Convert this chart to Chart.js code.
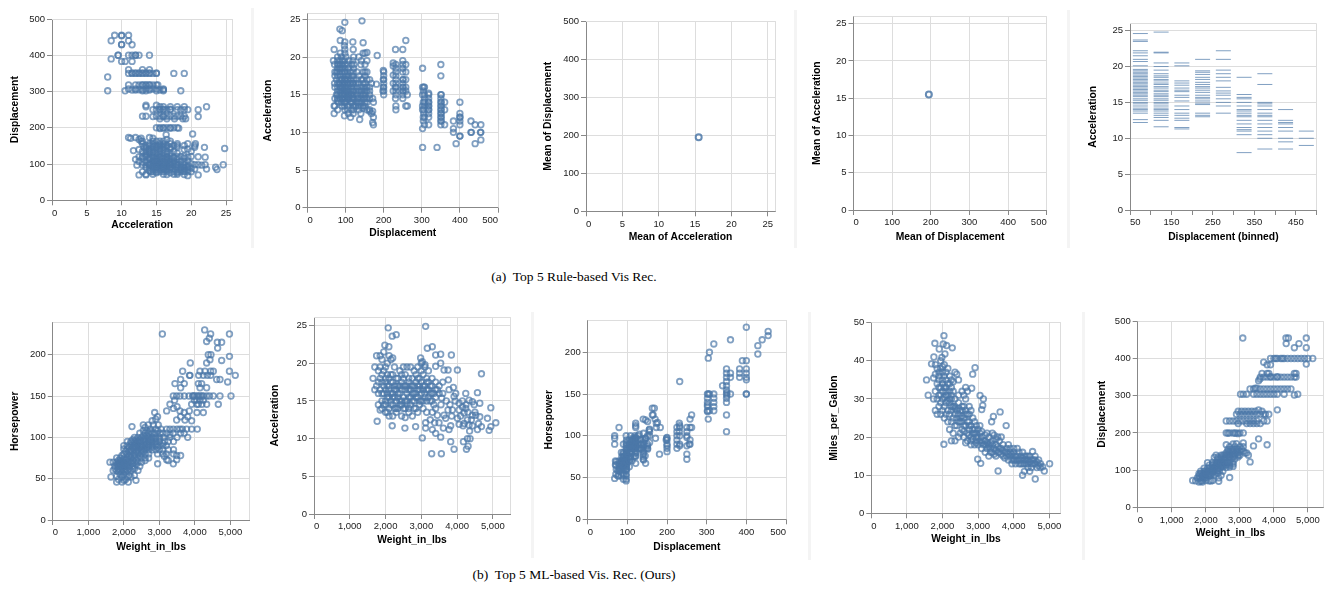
<!DOCTYPE html>
<html>
<head>
<meta charset="utf-8">
<title>Vis Rec</title>
<script src="https://cdn.jsdelivr.net/npm/chart.js@4.4.0/dist/chart.umd.min.js"></script>
<style>
  body { margin: 0; background: #fff; width: 1330px; height: 594px; position: relative; overflow: hidden; }
  canvas { position: absolute; }
  .sep { position: absolute; width: 3px; background: #f4f4f4; }
  .cap { position: absolute; left: 374px; width: 400px; text-align: center; white-space: pre;
         font-family: "Liberation Serif", "DejaVu Serif", serif; font-size: 13.5px; line-height: 16px; color: #000; }
</style>
</head>
<body>

<div class="sep" style="left:251px; top:8px; height:240px;"></div>
<div class="sep" style="left:794px; top:10px; height:238px;"></div>
<div class="sep" style="left:1067px; top:10px; height:238px;"></div>
<div class="sep" style="left:531px; top:312px; height:246px;"></div>
<div class="sep" style="left:808px; top:312px; height:248px;"></div>
<div class="sep" style="left:1082px; top:312px; height:248px;"></div>

<div class="cap" style="top:269px;">(a)  Top 5 Rule-based Vis Rec.</div>
<div class="cap" style="top:567px;">(b)  Top 5 ML-based Vis. Rec. (Ours)</div>

<script type="text/javascript">

// ---- tick values / labels
var ticksAcc = [0, 5, 10, 15, 20, 25];
var ticksDisp = [0, 100, 200, 300, 400, 500];
var ticksHp = [0, 50, 100, 150, 200];
var ticksMpg = [0, 10, 20, 30, 40, 50];
var ticksWt = [0, 1000, 2000, 3000, 4000, 5000];
var labelsWt = ['0', '1,000', '2,000', '3,000', '4,000', '5,000'];
var ticksBin = [50, 100, 150, 200, 250, 300, 350, 400, 450, 500];
var labelsBin = ['50', '', '150', '', '250', '', '350', '', '450', ''];

// ---- (acceleration, displacement)
var accDisp = [
  [9,455],[10,455],[11,455],[10,454],[8.5,440],[11,440],[10,429],[11.5,429],[10,430],
  [9.5,400],[9.5,400],[11,400],[11.5,400],[12,400],[12.5,400],[14,400],[12,400],
  [8.5,390],[10,383],[10.5,383],[11.5,383],[11,360],[13,360],[14,360],
  [11,350],[11.5,350],[12,350],[12.5,350],[13,350],[13.5,350],[14,350],[14.5,350],[15,350],[17.5,350],[19,350],
  [11.5,351],[12,351],[13,351],[14,351],[12.5,351],[13.5,351],[15,351],[8,340],
  [11,318],[12,318],[12.5,318],[13,318],[13.5,318],[14,318],[14.5,318],[15,318],[13,318],[13.5,318],[14,318],[15.2,318],
  [8,302],[10.5,302],[11,307],[11.5,304],[12,307],[12.5,305],[13,302],[13.5,302],[14,304],[14.5,307],[15,302],
  [15.5,304],[16,302],[16,305],[13,305],[12,304],[18.5,302],[14,307],[15,307],[13.5,307],[16,307],
  [15,262],[13.5,258],[16,258],[17,258],[18,258],[19,258],[22.2,258],[15.5,258],[13.5,262],
  [14.5,250],[15,250],[15.5,250],[16,250],[16.5,250],[17,250],[18,250],[18.5,250],[19,250],[19.5,250],[21,250],[16,251],[17,251],[15.5,251],
  [13,232],[13.5,232],[15,232],[15.5,232],[16,232],[16.5,232],[17,232],[17.5,232],[18,232],[18.5,232],[19,232],[21,231],
  [15.5,225],[16.5,225],[18.8,225],[19.2,225],[17.6,225],[16,231],[14.5,231],
  [15,200],[15.5,200],[16,200],[16.5,200],[17,200],[17.5,200],[18,200],[18.2,199],[15.5,198],[16,199],[17,199],
  [20.2,183],[16.4,181],[11,173],[11.3,171],[12,173],[12.5,168],[12.8,171],[14,173],[14.5,171],[16.5,168],
  [13,163],[14.5,163],[16,163],[15.5,163],[12.8,163],[17,163],[15,163],
  [13,156],[14,156],[14.5,156],[15.5,156],[17,156],[19.5,156],[20.6,156],[16,156],[18,156],
  [14,151],[15,151],[16,151],[16.5,151],[18,151],[19,151],[20.5,151],[15.5,151],[17.5,151],[14.5,151],[13.5,151],
  [13.2,146],[14.5,146],[15.5,145],[18,146],[20.5,146],[21.9,146],[16,146],[13.5,146],[15,146],[16.5,146],[17,146],
  [12.5,140],[13.5,140],[14,140],[15,140],[16,140],[17,141],[19,140],[19.5,141],[24.8,143],[15.5,140],[14.5,140],
  [11.7,137],[13,135],[14.5,134],[15.5,135],[16.5,134],[17.5,135],[20,135],[14,135],[13.5,134],
  [14,130],[15,130],[16,130],[17,130],[13.5,127],[15.5,127],[18,130],[14.5,131],[16.5,127],
  [13,121],[12.5,120],[13.5,120],[14.5,119],[15,120],[16,121],[17.5,119],[18,120],[20,121],[21,120],[22,119],[14.5,122],[15.5,121],[16.5,120],[19,122],
  [14,119],[15.5,119],[16.5,119],[17,121],[18.5,121],[19.5,119],[13.5,122],
  [13,116],[14,113],[15,114],[15.5,116],[16,116],[16.5,112],[17,113],[19,116],[14.5,116],[18,113],[14,116],[16.5,116],[17.5,116],[15,116],[12,113],
  [13,105],[14,101],[14.5,105],[15,108],[15.5,104],[16,105],[16.5,107],[17,105],[18,104],[19,105],[20,101],[14.8,107],[16,101],[19.5,108],[15.5,108],[17.5,108],
  [13.5,105],[14.5,108],[15,105],[16.5,104],[17.5,104],[18.5,107],[15.5,101],[17,101],[12.5,107],
  [12.2,97],[13.5,97],[14.5,97],[15,97],[15.5,98],[16,97],[16.5,98],[17,97],[18,97],[19,98],[19.5,97],[20.5,98],[21,98],[21.5,97],[22,98],[24.6,98],[15.5,97],[16.5,97],[14,98],[18.5,98],[17.5,98],
  [14.5,98],[15,98],[16,98],[17,98],[18,98],[13,98],[14,97],
  [14.5,91],[15,90],[16,90],[17,89],[18,91],[19,91],[20,89],[15.5,90],[23.5,91],[14,89],[16.5,91],[18.5,90],[16,91],[17,91],[15,91],[19.5,91],[13.5,91],
  [15,85],[16,85],[17,85],[18.5,85],[19.5,85],[20.5,86],[14,81],[16.5,83],[22.2,86],[23.7,85],[19,81],[15.5,85],[16.5,86],[17.5,86],[18,85],[14.5,85],[16,86],[19,86],
  [14.5,79],[16,79],[17,76],[18,79],[19,79],[19.5,79],[14.2,79],[15.5,79],[15,79],[17.5,79],[16.5,79],[18.5,79],[20,79],[13,79],
  [14.5,72],[16,72],[17.5,72],[15,76],[18,76],
  [21,70],[19.5,68],[18,72],[16.5,71],[13.5,70],[13.5,72],[12.5,70],[19,71]
];

var meanAcc = 15.5;
var meanDisp = 195;

// ---- binned displacement (bin start) -> acceleration values
var binStarts = [50, 100, 150, 200, 250, 300, 350, 400, 450];
var binAccel = [
  [24.6,23.7,23.5,22.2,21.9,21.5,21.0,20.7,20.1,19.6,19.4,19.2,19.0,18.8,18.6,18.4,18.2,18.0,17.8,17.6,17.4,17.2,17.0,16.8,16.6,16.4,16.2,16.0,15.8,15.5,15.3,15.0,14.8,14.5,14.2,14.0,13.8,13.5,12.6,12.2],
  [24.8,22.0,21.9,20.5,20.0,19.5,19.0,18.7,18.5,18.2,18.0,17.7,17.5,17.2,17.0,16.7,16.5,16.2,16.0,15.8,15.5,15.3,15.0,14.8,14.5,14.2,14.0,13.8,13.5,13.2,12.9,12.5,11.6],
  [20.5,20.1,18.0,17.7,17.4,17.0,16.7,16.5,16.0,15.7,15.2,14.5,14.0,13.5,13.2,12.8,12.5,11.5,11.3],
  [21.0,19.4,19.2,18.9,18.5,18.2,17.8,17.5,17.2,17.0,16.7,16.4,16.0,15.7,15.5,15.2,14.9,14.7,13.5,13.2,13.0],
  [22.2,21.0,19.5,19.0,18.5,18.0,17.1,16.6,16.3,16.0,15.5,15.0,14.5,13.5],
  [18.5,16.1,15.7,15.5,15.0,14.5,14.0,13.8,13.5,13.2,13.0,12.5,12.0,11.5,11.2,11.0,10.5,8.0],
  [19.0,17.5,15.0,14.8,14.5,14.0,13.5,13.2,13.0,12.5,12.0,11.5,11.0,10.5,10.0,8.5],
  [14.0,12.5,12.2,12.0,11.5,11.0,10.0,9.5,8.5],
  [11.0,10.0,9.0]
];

// ---- (weight, horsepower)
var wtHp = [
  [4278,230],[4446,225],[4976,225],[3086,225],[4333,216],[4408,220],[4634,215],[4756,215],[4643,208],[4455,200],[4380,200],
  [4427,194],[4333,190],[4756,193],[4976,198],[4976,180],[5140,175],
  [4146,180],[4286,180],[4446,180],[4521,180],[4108,175],[4240,175],[4352,175],[4446,175],[4709,170],[4615,170],[4925,167],
  [3873,190],[3657,180],[3864,175],[3850,175],[3441,165],[3601,170],[3704,165],[3601,160],[4146,160],[4333,160],[4193,165],[4099,165],
  [3394,150],[3488,150],[3582,150],[3704,150],[3836,150],[3958,150],[4052,150],[4146,150],[4240,150],[4333,150],[4413,150],[4521,150],
  [4709,150],[5019,150],[3940,150],[4100,150],[3990,150],[4200,150],
  [4052,145],[4146,145],[4240,145],[3990,145],[4100,140],[3911,140],[4200,140],[4333,140],[4662,140],[4060,140],
  [3400,135],[3582,132],[3845,132],[3207,132],[4240,130],[4060,130],[3700,130],[3500,137],
  [3488,121],[3723,121],[3911,120],[3800,125],[3600,125],[3300,140],[3430,145],
  [3207,110],[3394,110],[3582,110],[3770,110],[3911,110],[4070,110],[3300,110],[3500,110],[3650,110],
  [3019,105],[3207,105],[3394,105],[3600,105],[3100,105],[3300,103],[3500,100],[3113,100],[3300,100],[3400,95],[3800,100],[3700,105],
  [2549,115],[2690,115],[2831,115],[2972,115],[2600,112],[2750,110],[2900,110],[3050,110],[2800,120],[2900,122],[2870,130],[2950,125],
  [2230,113],
  [2000,90],[2100,90],[2200,90],[2300,90],[2400,90],[2500,90],[2600,90],[2700,90],[2800,90],[2900,90],[3000,90],[3100,90],[3200,90],
  [2150,88],[2250,88],[2350,88],[2450,88],[2650,88],[2800,88],[2950,88],
  [2100,95],[2200,95],[2300,95],[2400,95],[2500,95],[2600,95],[2700,95],[2800,95],[2900,95],[3000,95],[2250,97],[2350,97],[2450,97],[2550,97],[2750,97],[3150,95],[3250,95],
  [2300,100],[2400,100],[2500,100],[2600,100],[2700,100],[2800,100],[2900,100],[3000,100],[2450,105],[2600,105],[2700,105],[2800,105],[2900,105],[2550,108],[2650,108],
  [2200,85],[2300,85],[2400,85],[2500,85],[2600,85],[2700,85],[2800,85],[2900,85],[3000,85],[3100,85],[3250,85],[3400,85],
  [2950,80],[3100,80],[3200,80],[3400,80],[3600,78],[3490,78],[3141,77],[3207,73],[3394,68],[3490,73],[2953,68],[3250,72],
  [2000,80],[2100,80],[2200,80],[2300,80],[2400,80],[2500,80],[2600,80],[2700,80],[2050,83],[2150,83],[2350,83],[2550,83],
  [1800,75],[1900,75],[2000,75],[2100,75],[2200,75],[2300,75],[2400,75],[2500,75],[2600,75],[1950,78],[2150,78],[2450,78],[2700,75],
  [1700,70],[1800,70],[1900,70],[2000,70],[2100,70],[2200,70],[2300,70],[2400,70],[2500,70],[1850,72],[2050,72],[2250,72],[1610,70],[2600,72],
  [1750,65],[1850,65],[1950,65],[2050,65],[2150,65],[2250,65],[2350,67],[1900,67],[2100,67],[2450,65],
  [1700,60],[1800,60],[1900,60],[2000,60],[2100,60],[2200,60],[2300,62],[1850,62],[2050,62],[2400,60],
  [1639,52],[1800,53],[1950,52],[2100,52],[2200,52],[1900,55],[2000,55],[2150,54],[2300,54],[1798,46],[1950,46],[2127,46],[2005,48],[2343,48],[1850,49],[2050,49],
  [1850,68],[1950,70],[2050,68],[2150,70],[2250,68],[2350,72],[1900,72],[2000,73],[2100,73],[2200,77],[2300,78],[2400,82],[2500,83],
  [2600,87],[2700,88],[2800,93],[2900,98],[3000,98],[2200,93],[2300,93],[2400,93],[2500,92],[2600,92],[2700,92],[2200,83],[2100,86],
  [2000,86],[2300,88],[2400,88],[2500,88],[2600,98],[2700,98],[2800,98],[2900,92],[3100,93],[2850,105],[2950,108],[2750,107],[2650,102],
  [2550,102],[2450,95],[2350,92],[1750,62],[1850,58],[1950,58],[2050,58],[2150,62],[2250,62],[1800,67],[1950,62],[2000,67]
];

// ---- (weight, acceleration)
var wtAcc = [
  [2075,24.7],[3121,24.9],[2187,23.6],[2299,23.8],[1981,22.4],[2093,22.2],[3308,22.2],[3168,22],[3402,21.1],[3542,21.2],[3841,21.1],
  [3542,20],[3402,19.6],[3028,20.2],[2981,20.7],[3103,19.8],[3636,19.1],[3748,19.1],[4009,19.1],[4682,18.6],[3757,17.8],[3897,16.8],
  [3776,16.5],[3916,15.6],[3570,15.4],
  [3963,16],[4243,16],[4570,16.1],[4056,14.7],[4150,14.2],[4243,14],[4336,15.1],[4430,14.9],[4477,14.5],[4636,14.7],[4056,13.8],
  [4196,13.4],[4430,13.1],[4523,13.1],[4636,12.9],[4009,12.7],[4290,12.5],[4056,11.9],[4168,11.7],[4336,11.8],[4430,11.7],[4570,11.2],
  [4682,11.6],[4850,12.7],[4897,11.1],[4944,11.6],[4944,14.1],[5084,12.1],[4290,10],[4364,10],[4308,9],[4262,8.6],[4178,9.6],
  [3308,13.5],[3449,13.1],[3636,13.1],[3748,13.8],[3869,13.8],[3682,12.7],[3495,12.1],[3374,12.1],[3617,11.4],[3776,11.2],[3822,11.7],
  [3308,11.2],[3402,10.7],[3542,10.2],[3028,10.1],[3290,8],[3561,8],[3916,8.6],[3822,9.6],[3121,12.1],[3121,11.4],[2841,11.6],
  [2542,11.4],[2187,11.7],[1766,12.3],
  [1650,18],[1700,19.5],[1750,21],[1850,21],[1800,19],[1850,19.5],[1900,20.5],[1950,21.5],[1950,19],[2000,19.5],[2050,20],[2100,21],
  [2150,20.5],[2200,20.7],[2000,18],[1850,18],[1900,17.5],[1750,17],[1700,16.5],[1800,16],[1900,16],[2000,16.5],[2100,17],[2200,17.5],
  [2300,18],[2400,19],[2500,19.5],[2600,19.5],[2700,19.5],[2800,19],[2900,19.5],[3000,20],[3100,19.5],[3200,19],[3300,18],[3400,17.5],
  [3500,17],[3600,17.5],
  [2000,15],[2100,15.5],[2200,16],[2300,16.5],[2400,16],[2500,15.5],[2600,16],[2700,16.5],[2800,17],[2900,17],[3000,17.5],[3100,17],
  [3200,16.5],[3300,16],[3400,15.5],[3450,16.5],
  [1800,14.5],[1900,14],[2000,14.5],[2100,14],[2200,14.5],[2300,15],[2400,14.5],[2500,14],[2600,15],[2700,14.5],[2800,15],[2900,15.5],
  [3000,15],[3200,15.5],
  [1850,13.8],[2050,13.5],[2200,13],[2300,13.5],[2450,13],[2550,12.8],[2650,13.5],[2750,13],[2900,13.5],[3050,14],[3150,13.5],[3250,12.5],
  [1950,16],[2050,17],[2150,18.5],[2250,19.5],[2350,17],[2450,17.5],[2550,18.5],[2650,17.5],[2750,18],[2850,18.5],[2950,18],[3050,18.5],
  [3150,18],[3250,17],[3350,16],
  [2100,16.5],[2200,15.5],[2300,17],[2400,15],[2500,17],[2600,14.5],[2700,15.5],[2800,16],[2900,16.5],[3000,16],[3100,15.5],[2050,15.5],
  [2150,15],[2250,14],[2350,15.5],[2450,16.5],[2550,16.5],[2650,15.5],[2850,14],[2950,16.5],
  [1900,15],[1950,17],[2000,17.5],[2050,18.5],[2100,18],[2150,16],[2200,18.5],[2250,16.5],[2300,14],[2350,16],[2400,17],[2450,15],
  [2500,18],[2550,15],[2600,17],[2650,16.5],[2700,17],[2750,15],[2800,14],[2850,16],[2900,18],[2950,15],[3000,19],[3050,16.5],
  [3100,16],[3150,15],[3200,17.5],[3250,15],[3300,17],[3350,14.5],[3400,16.5],[3500,16],[1800,17.5],[1850,16.5],[1900,18.5],[1950,14.5],
  [2000,13.5],[2100,13],[2150,14.5],[2250,15.5],[2350,14],[2450,14.5],[2550,14],[2650,14],[2750,16],[2850,15.5],[2950,14.5],[3050,15],
  [3150,16.5],[3250,16],[2050,16],[2150,17.5],[2250,17],[2350,18],[2450,18.5],[2550,17],[2650,18],[2750,17],[2850,17.5],[2950,17],
  [3050,17],[3150,17.5],[3300,15],[3400,14],[3550,14.5],[3600,16],[3700,15],[3800,14.5],[3850,13],[3950,15],[4100,13],[4200,12],
  [4300,13.5],[4400,12.5],[4500,13.5],[4600,12],[4150,15],[4350,11],[4250,14.5]
];

// ---- (displacement, horsepower)
var dispHp = [
  [400,230],[455,225],[455,220],[440,215],[429,208],[429,198],[318,210],[307,200],[304,193],[360,215],
  [350,180],[350,175],[350,170],[350,165],[350,160],[350,155],[350,150],[350,145],[350,140],[350,125],[350,105],
  [360,175],[360,170],[360,150],[340,160],[351,148],[351,152],
  [383,180],[383,175],[383,170],[390,190],[400,190],[400,180],[400,175],[400,170],[400,167],[400,150],[400,150],
  [302,150],[302,145],[302,140],[302,135],[302,130],[304,120],[307,130],[318,150],[318,145],[318,140],[318,135],[304,150],[307,150],
  [302,137],[302,129],[318,130],
  [232,165],
  [225,110],[225,105],[225,100],[225,95],[225,90],[225,85],[232,112],[232,110],[232,100],[232,90],[232,88],[231,105],[231,115],
  [250,110],[250,105],[250,100],[250,98],[250,88],[250,78],[250,72],[258,110],[258,120],[258,95],[258,90],[262,110],[262,125],[256,90],
  [200,98],[200,95],[200,90],[200,88],[200,85],[199,97],[198,95],[200,81],[181,78],[183,110],
  [163,133],[168,133],[165,125],[163,125],[170,120],[173,115],[176,116],[173,110],[156,105],[156,108],[151,117],[146,119],[140,120],
  [171,97],[145,97],[146,67],[141,71],[140,72],[140,75],[140,83],[140,86],[140,88],[140,90],[140,92],[135,84],[134,90],[134,95],
  [134,96],[130,102],[151,84],[151,85],[151,88],[151,90],[156,92],[155,107],[145,76],[141,80],[141,103],[146,97],
  [121,67],[121,76],[121,98],[121,110],[121,112],[121,115],[119,82],[119,92],[119,97],[120,75],[120,79],[120,88],[120,97],[122,80],
  [122,85],[122,86],[122,88],[116,75],[116,90],[114,91],[113,95],[112,85],[112,88],[111,80],[110,87],[108,75],[108,93],[107,72],
  [107,75],[107,86],[105,63],[105,74],[104,95],[101,83],[127,100],
  [97,46],[97,48],[97,54],[97,60],[97,67],[97,75],[97,78],[97,88],[98,63],[98,66],[98,68],[98,70],[98,76],[98,80],[98,83],[91,53],
  [91,60],[91,67],[91,70],[90,48],[90,75],[90,70],[89,60],[89,62],[86,64],[86,65],[85,52],[85,65],[85,70],[81,60],[79,58],[79,67],
  [79,70],[78,52],[76,52],[72,69],[71,65],[70,65],[70,70],[68,100],[68,97],[68,90],[68,49],[79,110],[97,92],[98,95],[90,90],[89,71],
  [85,80],[97,100],[105,90],[108,100],
  [91,68],[91,72],[90,65],[90,80],[97,52],[97,58],[97,70],[97,71],[97,72],[98,60],[98,90],[98,65],[85,60],[85,68],[86,70],[86,75],
  [89,65],[89,55],[79,65],[81,62],[79,61],[76,58],[72,60],[71,54],[105,70],[105,80],[105,85],[107,90],[108,80],[110,80],[112,70],
  [112,95],[113,85],[114,97],[116,85],[119,100],[120,90],[120,85],[121,95],[122,90],[130,85],[134,85],[135,90],[140,78],[140,95],
  [146,85],[151,100],[156,100],[97,85],[97,80],[113,88],[116,95],[119,88],[122,95],[91,75],[89,78],[108,85],[105,88],[101,78]
];

// ---- (weight, miles per gallon)
var wtMpg = [
  [2040,46.6],[1786,44.6],[2021,44.4],[2115,44],[2274,43.4],[1908,43.1],[2068,41.8],[1983,40.9],[1758,41],[1692,39.2],[1551,35],[1598,31],
  [2914,38.2],[2848,36.5],[2820,32.8],[3054,30.9],[3148,30],[3130,28.3],[3101,27.2],[3788,23],[3618,26.6],[3430,25.4],[3380,24],
  [2039,18.1],[2989,14.2],[3073,13.1],[3562,11.1],[4530,16.2],[4605,9],[4812,12.2],[4859,11.1],[5009,13],[4248,10],[4300,11],[4400,12],
  [1800,39],[1850,38],[1900,37],[1950,38],[2000,37],[2050,36],[2100,35],[2150,34],[2200,36],[2250,33],[2300,32],[2350,37],[2400,36.5],
  [2450,35],[2300,34.5],[2200,30],[2100,31],[2000,32],[1900,33],[1800,32],[1850,30],[1950,29],[2050,28],[2150,27],[2250,28],[2350,26],
  [2450,29],[2550,32],[2600,31],[2650,33],[1800,27],[1850,26],[1950,26],[2050,25],[2150,24],[2250,24],[2350,23],[2450,26],[2550,27],
  [1900,35],[2000,34],[2100,33],[2200,32],[1750,35.5],[1800,36.5],[1950,40],[2050,39],[2150,38],[2250,31],[2350,30],[2450,31],[2000,30],
  [2100,29],[1900,31],[1750,30],[2300,21],[2250,19],[2350,19],[2200,22],
  [2500,24],[2600,25],[2700,26],[2800,27],[2900,24],[2550,22],[2650,23],[2750,22],[2850,21],[2950,20],[2500,21],[2600,20],[2700,19],
  [2800,19],[2900,18],[2550,28],[2650,30],[2750,28],[2850,25],[2950,23],[2700,32],[2450,20],[2500,27],[2600,28],[2750,24],[2400,23],
  [2650,18.5],[2800,18],[2950,18.5],[2750,20.5],[3000,22],[3050,21],
  [3100,20],[3200,19],[3300,20],[3400,19],[3500,18],[3600,19],[3700,18],[3800,17],[3150,18],[3250,17],[3350,16],[3450,17],[3550,16],
  [3650,15.5],[3750,16],[3250,21],[3400,21],[3550,20],[3650,20],[3850,18],[3200,16],[3300,15],[3500,15],[3700,15],[3900,17],[3100,17],
  [3450,20.5],[3600,17],[3350,18.5],
  [3900,16],[4000,15],[4100,14],[4200,15],[4300,14],[4400,13],[4500,14],[4600,13],[4700,14],[3950,14],[4050,13],[4150,16],[4250,16],
  [4350,15],[4450,15],[4550,13],[4650,12],[4750,13],[4000,17],[4100,17],[4200,13],[4300,13],[4400,14],[4500,12],[3850,14],[3950,13],
  [4050,15],[4150,14],[4250,13],[4350,14],[4450,11],[4600,15],[4700,12.5],[4000,16],[3800,15],
  [1850,34],[1900,36],[1950,33],[2000,35],[2050,33],[2100,32],[2150,31],[2200,29],[2250,27],[2300,28],[2350,27.5],[2400,27],[2450,24],
  [2500,25],[2550,24],[2600,23],[2650,26],[2700,24],[2750,23],[2800,23],[2850,22],[2900,21],[2950,21],[3000,20],[3050,19],[3100,18.5],
  [3150,19],[3200,18],[3250,18.5],[3300,17.5],[3350,17],[3400,16],[3450,15.5],[3500,16.5],[3550,17.5],[3600,16],[3650,17],[3700,16.5],
  [3750,14.5],[3800,16],[3850,15.5],[3900,15],[3950,15.5],[4000,14],[4050,14],[4100,15],[4150,13],[4200,14],[4250,14.5],[4300,15],
  [4350,13],[4400,15],[4450,13.5],[4500,13],[4550,14],[4600,14],[4650,13.5],[4750,12],[1900,28],[2000,27],[2100,26],[2200,26],[2300,25],
  [2400,25],[2000,38.5],[2100,37],[2200,34],[2250,35],[1950,31],[2050,30.5],[2150,29.5],[2250,30],[2350,28],[2450,27.5],[2550,25.5],
  [2650,27],[2750,26],[2850,19.5],[2950,19],[3050,23],[2600,21.5],[2700,21],[2800,20],[2900,22],[3000,18],[3100,21.5],[3200,20.5],
  [3300,18],[3400,18],[3500,19.5]
];

// ---- (weight, displacement)
var wtDisp = [
  [3086,455],[4354,455],[4425,455],[4951,455],[4360,440],[4735,440],[4600,429],[4951,429],[4951,385],
  [3900,400],[4000,400],[4100,400],[4200,400],[4300,400],[4400,400],[4500,400],[4600,400],[4700,400],[4800,400],[4900,400],[5000,400],
  [5140,400],[4050,400],[4250,400],[3700,390],[3800,383],[3900,383],
  [3600,350],[3700,350],[3800,350],[3900,350],[4000,350],[4100,350],[4200,350],[4300,350],[4400,350],[4500,350],[4600,350],[4650,350],
  [3650,360],[3800,360],[3850,360],[4600,360],[4650,360],[3550,340],[3590,345],[3900,351],[4100,351],
  [3020,304],[3100,304],[3200,304],[3400,304],[3500,304],[3600,304],[3700,304],[3800,304],[3900,304],[4000,304],[4100,304],[4300,304],
  [4600,302],[4700,304],[3300,318],[3400,318],[3600,318],[3700,318],[3800,318],[3900,318],[4000,318],[4100,318],[4200,318],[4400,318],
  [4500,318],[4300,318],[3450,320],[3500,320],
  [2950,258],[3050,258],[3150,258],[3250,258],[3350,258],[3450,258],[3550,262],[3650,258],[3750,250],[3850,250],[4100,262],[3000,250],
  [3100,250],[3200,250],[3300,250],[3400,250],[3500,250],[3600,250],[3700,250],[2900,250],
  [2600,232],[2700,232],[2800,232],[2900,232],[3000,232],[3100,232],[3200,232],[3300,232],[3400,232],[3500,232],[3600,225],[3700,232],
  [3200,225],[3300,225],[3400,225],[3500,225],[3800,232],[2950,225],
  [2600,200],[2700,200],[2800,200],[2900,200],[3000,200],[3100,200],[2650,199],[2850,199],[2950,198],
  [3800,168],[3550,184],[3400,165],[3300,122],[2800,170],[2700,80],[2380,70],[2200,72],[2150,71],
  [1613,72],[1700,71],[1800,68],[1850,70],[1750,79],[1800,79],[1850,79],[1900,79],[1950,79],[2000,79],[1800,85],[1900,85],[2000,85],
  [2100,85],[1800,90],[1900,90],[2000,89],[2100,90],[2200,91],[1850,97],[1950,97],[2050,97],[2150,98],[2250,97],[2350,98],[1950,105],
  [2050,105],[2150,105],[2250,107],[2350,104],[2450,108],[2100,113],[2200,113],[2300,116],[2400,119],[2500,120],[2600,121],[2200,121],
  [2300,120],[2400,122],[2500,116],[2250,134],[2350,135],[2450,135],[2550,134],[2650,140],[2750,140],[2450,140],[2550,141],[2850,140],
  [2950,140],[2300,140],[2600,146],[2700,151],[2800,151],[2900,151],[3000,151],[3100,151],[2650,156],[2750,156],[2950,146],[2850,163],
  [2700,163],[2600,168],[2900,171],[3100,173],[3000,140],[3200,146],[3250,140],[3050,156],[2500,97],[2600,107],[2700,119],[2800,121],
  [2050,120],[1950,91],[2100,71],[1900,68],[2380,79],[2250,86],[2450,86],[2150,91],[2350,91],[2400,113],[2700,108],
  [1900,72],[2000,72],[2050,86],[2150,86],[1950,85],[1850,91],[2000,91],[2100,97],[2200,97],[2300,98],[2400,97],[2000,98],[2100,105],
  [2200,105],[2300,108],[2400,105],[2500,108],[2600,113],[2700,113],[2800,116],[2500,113],[2300,113],[2200,116],[2400,116],[2350,120],
  [2450,121],[2550,121],[2650,122],[2750,130],[2850,130],[2950,135],[2550,130],[2650,134],[2450,130],[2350,130],[2700,135],[2800,135],
  [2900,146],[2800,146],[2700,146],[2650,151],[2900,156],[2700,141],[2600,140],[2500,140],[3000,163],[3100,163],[3150,146],[2950,156],
  [2800,156],[2600,116],[2800,110]
];

var FONT = '"Liberation Sans", Arial, Helvetica, sans-serif';
var BLUE = 'rgba(76,120,168,0.7)';
var TITLE_SIZE = 10.3;

// light frame on the top and right side of each plot
var framePlugin = {
  id: 'frame',
  beforeDatasetsDraw: function(chart) {
    var a = chart.chartArea, ctx = chart.ctx;
    var x = Math.round(a.right - 0.5) + 0.5, y = Math.round(a.top - 0.5) + 0.5;
    ctx.save();
    ctx.strokeStyle = '#ddd';
    ctx.lineWidth = 1;
    ctx.beginPath();
    ctx.moveTo(a.left, y);
    ctx.lineTo(x, y);
    ctx.lineTo(x, a.bottom);
    ctx.stroke();
    ctx.restore();
  }
};

function axis(a, horiz, size) {
  var ticks = a.ticks;
  var labels = a.labels || ticks.map(function(v) { return String(v); });
  var edge = horiz && a.max > ticks[ticks.length - 1];
  return {
    type: 'linear',
    min: a.min,
    max: a.max,
    afterBuildTicks: function(s) {
      s.ticks = ticks.map(function(v) { return { value: v }; });
      if (edge) s.ticks.push({ value: a.max, edge: true });
    },
    afterFit: function(s) {
      if (horiz) s.height = size; else s.width = size;
    },
    ticks: {
      autoSkip: false, maxRotation: 0, minRotation: 0,
      align: horiz ? 'inner' : 'center',
      padding: 2, color: '#222',
      font: { family: FONT, size: 9.5 },
      callback: function(v) {
        var k = ticks.indexOf(v);
        return k < 0 ? '' : labels[k];
      }
    },
    grid: {
      color: '#ddd',
      lineWidth: 1,
      drawOnChartArea: a.grid !== false,
      tickLength: 5,
      tickColor: function(c) { return c.tick && c.tick.edge ? 'rgba(0,0,0,0)' : '#888'; }
    },
    border: { display: true, color: '#888', width: 1 },
    title: {
      display: true, text: a.title, color: '#000', padding: 0,
      font: { family: FONT, size: TITLE_SIZE, weight: 'bold', lineHeight: 1.2 }
    }
  };
}

function makeChart(p) {
  var lh = TITLE_SIZE * 1.2;
  var cl = Math.round(p.ytx - lh / 2), ct = Math.round(p.t) - 8;
  var cr = Math.round(p.r) + 12, cb = Math.round(p.xty + lh / 2);
  var yW = p.l - cl, xH = cb - p.b;

  var cv = document.createElement('canvas');
  cv.width = cr - cl;
  cv.height = cb - ct;
  cv.style.left = cl + 'px';
  cv.style.top = ct + 'px';
  document.body.appendChild(cv);

  var ds = {
    data: p.pts.map(function(d) { return { x: d[0], y: d[1] }; }),
    showLine: false,
    pointBackgroundColor: 'rgba(0,0,0,0)',
    pointBorderColor: BLUE,
    pointRadius: 2.8,
    pointBorderWidth: 1.8,
    pointHoverRadius: 2.8
  };
  if (p.mark == 'tick') {
    ds.pointStyle = 'line';
    ds.pointRadius = 7.5;
    ds.pointHoverRadius = 7.5;
    ds.pointBorderWidth = 1;
  } else if (p.mark == 'mean') {
    ds.pointBorderColor = 'rgba(76,120,168,0.85)';
    ds.pointRadius = 3;
    ds.pointBorderWidth = 2;
  }

  new Chart(cv, {
    type: 'scatter',
    data: { datasets: [ds] },
    options: {
      responsive: false,
      animation: false,
      events: [],
      layout: { padding: { left: 0, top: p.t - ct, right: cr - p.r, bottom: 0 } },
      plugins: { legend: { display: false }, tooltip: { enabled: false } },
      scales: { x: axis(p.x, true, xH), y: axis(p.y, false, yW) }
    },
    plugins: [framePlugin]
  });
}

var binPts = [];
binStarts.forEach(function(s, i) {
  binAccel[i].forEach(function(v) { binPts.push([s + 25, v]); });
});

var panels = [
  { l: 52, t: 19, r: 232.3, b: 200.3, ytx: 15.5, xty: 225.3,
    x: { title: 'Acceleration', min: 0, max: 25.9, ticks: ticksAcc },
    y: { title: 'Displacement', min: 0, max: 500, ticks: ticksDisp },
    pts: accDisp },
  { l: 307.5, t: 13.3, r: 498, b: 207.7, ytx: 268.5, xty: 233.3,
    x: { title: 'Displacement', min: 0, max: 500, ticks: ticksDisp },
    y: { title: 'Acceleration', min: 0, max: 25.8, ticks: ticksAcc },
    pts: accDisp.map(function(d) { return [d[1], d[0]]; }) },
  { l: 586, t: 21.3, r: 775, b: 211.3, ytx: 548.3, xty: 237.3,
    x: { title: 'Mean of Acceleration', min: 0, max: 26, ticks: ticksAcc },
    y: { title: 'Mean of Displacement', min: 0, max: 500, ticks: ticksDisp },
    pts: [[meanAcc, meanDisp]], mark: 'mean' },
  { l: 853.5, t: 16.3, r: 1046.7, b: 210, ytx: 816.7, xty: 236.5,
    x: { title: 'Mean of Displacement', min: 0, max: 500, ticks: ticksDisp },
    y: { title: 'Mean of Acceleration', min: 0, max: 26, ticks: ticksAcc },
    pts: [[meanDisp, meanAcc]], mark: 'mean' },
  { l: 1130, t: 22.7, r: 1316.7, b: 210, ytx: 1093.3, xty: 236.7,
    x: { title: 'Displacement (binned)', min: 50, max: 500, ticks: ticksBin, labels: labelsBin, grid: false },
    y: { title: 'Acceleration', min: 0, max: 26, ticks: ticksAcc },
    pts: binPts, mark: 'tick' },
  { l: 52.8, t: 322.7, r: 249.3, b: 520, ytx: 15, xty: 546.7,
    x: { title: 'Weight_in_lbs', min: 0, max: 5535, ticks: ticksWt, labels: labelsWt },
    y: { title: 'Horsepower', min: 0, max: 238.7, ticks: ticksHp },
    pts: wtHp },
  { l: 314, t: 317.3, r: 510, b: 514, ytx: 275.3, xty: 540,
    x: { title: 'Weight_in_lbs', min: 0, max: 5480, ticks: ticksWt, labels: labelsWt },
    y: { title: 'Acceleration', min: 0, max: 26.1, ticks: ticksAcc },
    pts: wtAcc },
  { l: 587.7, t: 320, r: 786, b: 519.3, ytx: 548.7, xty: 546.7,
    x: { title: 'Displacement', min: 0, max: 500, ticks: ticksDisp },
    y: { title: 'Horsepower', min: 0, max: 238.7, ticks: ticksHp },
    pts: dispHp },
  { l: 871.3, t: 322.7, r: 1060.7, b: 513.3, ytx: 834, xty: 539.3,
    x: { title: 'Weight_in_lbs', min: 0, max: 5320, ticks: ticksWt, labels: labelsWt },
    y: { title: 'Miles_per_Gallon', min: 0, max: 50, ticks: ticksMpg },
    pts: wtMpg },
  { l: 1137.7, t: 321.3, r: 1323.3, b: 507.3, ytx: 1101.7, xty: 533.3,
    x: { title: 'Weight_in_lbs', min: 0, max: 5450, ticks: ticksWt, labels: labelsWt },
    y: { title: 'Displacement', min: 0, max: 500, ticks: ticksDisp },
    pts: wtDisp }
];

panels.forEach(makeChart);

</script>
</body>
</html>
